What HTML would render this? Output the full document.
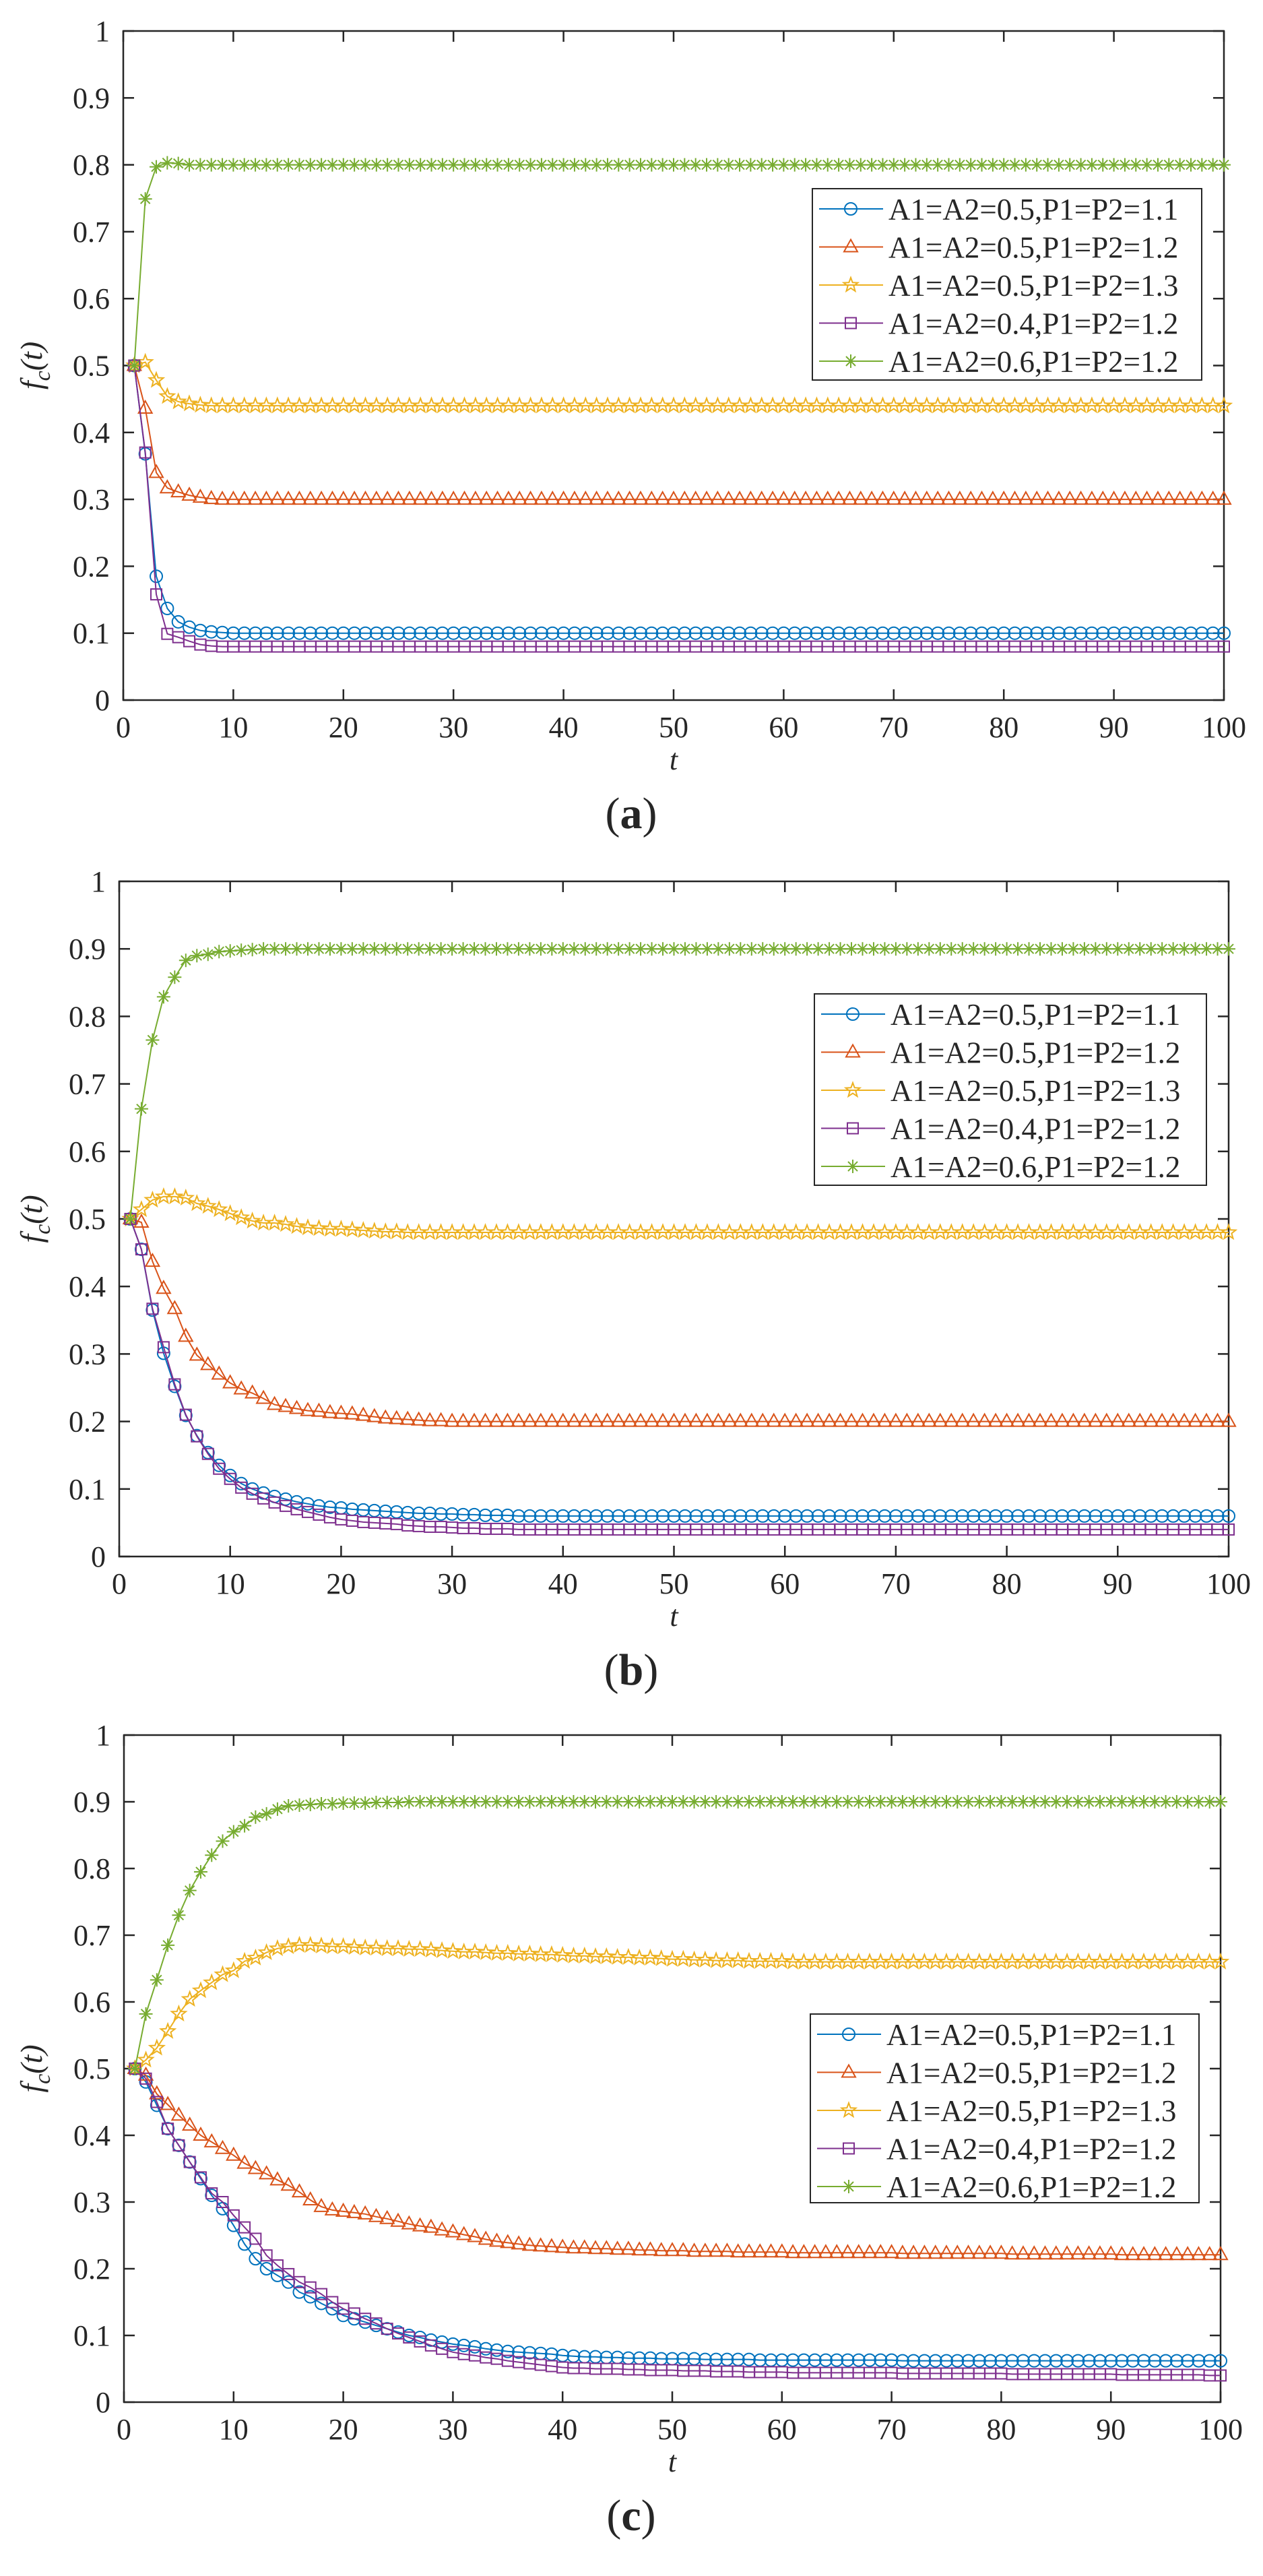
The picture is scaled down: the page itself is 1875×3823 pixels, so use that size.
<!DOCTYPE html>
<html><head><meta charset="utf-8"><style>
html,body{margin:0;padding:0;background:#fff;}
svg{display:block;font-family:"Liberation Serif","Times New Roman",serif;}
text{font-family:"Liberation Serif","Times New Roman",serif;fill:#262626;}
</style></head>
<body>
<svg id="fig" width="1875" height="3823" viewBox="0 0 1875 3823" font-family="Liberation Serif, serif" xmlns="http://www.w3.org/2000/svg"></svg>
<script>
const tValues = Array.from({length:100},(_,i)=>i+1);
const xTickLabels = ["0","10","20","30","40","50","60","70","80","90","100"];
const yTickLabels = ["0","0.1","0.2","0.3","0.4","0.5","0.6","0.7","0.8","0.9","1"];
const seriesNames = ["A1=A2=0.5,P1=P2=1.1","A1=A2=0.5,P1=P2=1.2","A1=A2=0.5,P1=P2=1.3","A1=A2=0.4,P1=P2=1.2","A1=A2=0.6,P1=P2=1.2"];

const aBlue = [.5,.368,.185,.137,.117,.109,.104,.102,.101,.1,
.1,.1,.1,.1,.1,.1,.1,.1,.1,.1, .1,.1,.1,.1,.1,.1,.1,.1,.1,.1,
.1,.1,.1,.1,.1,.1,.1,.1,.1,.1, .1,.1,.1,.1,.1,.1,.1,.1,.1,.1,
.1,.1,.1,.1,.1,.1,.1,.1,.1,.1, .1,.1,.1,.1,.1,.1,.1,.1,.1,.1,
.1,.1,.1,.1,.1,.1,.1,.1,.1,.1, .1,.1,.1,.1,.1,.1,.1,.1,.1,.1,
.1,.1,.1,.1,.1,.1,.1,.1,.1,.1];
const aRed = [.5,.436,.34,.317,.311,.306,.303,.301,.3,.3,
.3,.3,.3,.3,.3,.3,.3,.3,.3,.3, .3,.3,.3,.3,.3,.3,.3,.3,.3,.3,
.3,.3,.3,.3,.3,.3,.3,.3,.3,.3, .3,.3,.3,.3,.3,.3,.3,.3,.3,.3,
.3,.3,.3,.3,.3,.3,.3,.3,.3,.3, .3,.3,.3,.3,.3,.3,.3,.3,.3,.3,
.3,.3,.3,.3,.3,.3,.3,.3,.3,.3, .3,.3,.3,.3,.3,.3,.3,.3,.3,.3,
.3,.3,.3,.3,.3,.3,.3,.3,.3,.3];
const aYellow = [.5,.505,.478,.454,.446,.443,.441,.44,.44,.44,
.44,.44,.44,.44,.44,.44,.44,.44,.44,.44, .44,.44,.44,.44,.44,.44,.44,.44,.44,.44,
.44,.44,.44,.44,.44,.44,.44,.44,.44,.44, .44,.44,.44,.44,.44,.44,.44,.44,.44,.44,
.44,.44,.44,.44,.44,.44,.44,.44,.44,.44, .44,.44,.44,.44,.44,.44,.44,.44,.44,.44,
.44,.44,.44,.44,.44,.44,.44,.44,.44,.44, .44,.44,.44,.44,.44,.44,.44,.44,.44,.44,
.44,.44,.44,.44,.44,.44,.44,.44,.44,.44];
const aPurple = [.5,.37,.158,.099,.094,.088,.083,.081,.08,.08,
.08,.08,.08,.08,.08,.08,.08,.08,.08,.08, .08,.08,.08,.08,.08,.08,.08,.08,.08,.08,
.08,.08,.08,.08,.08,.08,.08,.08,.08,.08, .08,.08,.08,.08,.08,.08,.08,.08,.08,.08,
.08,.08,.08,.08,.08,.08,.08,.08,.08,.08, .08,.08,.08,.08,.08,.08,.08,.08,.08,.08,
.08,.08,.08,.08,.08,.08,.08,.08,.08,.08, .08,.08,.08,.08,.08,.08,.08,.08,.08,.08,
.08,.08,.08,.08,.08,.08,.08,.08,.08,.08];
const aGreen = [.5,.749,.797,.803,.802,.8,.8,.8,.8,.8,
.8,.8,.8,.8,.8,.8,.8,.8,.8,.8, .8,.8,.8,.8,.8,.8,.8,.8,.8,.8,
.8,.8,.8,.8,.8,.8,.8,.8,.8,.8, .8,.8,.8,.8,.8,.8,.8,.8,.8,.8,
.8,.8,.8,.8,.8,.8,.8,.8,.8,.8, .8,.8,.8,.8,.8,.8,.8,.8,.8,.8,
.8,.8,.8,.8,.8,.8,.8,.8,.8,.8, .8,.8,.8,.8,.8,.8,.8,.8,.8,.8,
.8,.8,.8,.8,.8,.8,.8,.8,.8,.8];

const bBlue = [.5,.455,.365,.301,.252,.209,.179,.154,.135,.12,
.108,.1,.094,.089,.085,.081,.078,.075,.073,.072, .07,.069,.068,.067,.066,.065,.064,.064,.063,.063,
.062,.062,.061,.061,.061,.06,.06,.06,.06,.06, .06,.06,.06,.06,.06,.06,.06,.06,.06,.06,
.06,.06,.06,.06,.06,.06,.06,.06,.06,.06, .06,.06,.06,.06,.06,.06,.06,.06,.06,.06,
.06,.06,.06,.06,.06,.06,.06,.06,.06,.06, .06,.06,.06,.06,.06,.06,.06,.06,.06,.06,
.06,.06,.06,.06,.06,.06,.06,.06,.06,.06];
const bRed = [.5,.495,.437,.397,.367,.326,.298,.284,.27,.257,
.248,.242,.234,.225,.222,.219,.216,.215,.213,.212, .211,.209,.207,.205,.204,.203,.202,.201,.201,.2,
.2,.2,.2,.2,.2,.2,.2,.2,.2,.2, .2,.2,.2,.2,.2,.2,.2,.2,.2,.2,
.2,.2,.2,.2,.2,.2,.2,.2,.2,.2, .2,.2,.2,.2,.2,.2,.2,.2,.2,.2,
.2,.2,.2,.2,.2,.2,.2,.2,.2,.2, .2,.2,.2,.2,.2,.2,.2,.2,.2,.2,
.2,.2,.2,.2,.2,.2,.2,.2,.2,.2];
const bYellow = [.5,.514,.528,.533,.533,.531,.523,.519,.514,.508,
.502,.497,.494,.494,.492,.489,.487,.486,.485,.485, .484,.483,.482,.481,.481,.48,.48,.48,.48,.48,
.48,.48,.48,.48,.48,.48,.48,.48,.48,.48, .48,.48,.48,.48,.48,.48,.48,.48,.48,.48,
.48,.48,.48,.48,.48,.48,.48,.48,.48,.48, .48,.48,.48,.48,.48,.48,.48,.48,.48,.48,
.48,.48,.48,.48,.48,.48,.48,.48,.48,.48, .48,.48,.48,.48,.48,.48,.48,.48,.48,.48,
.48,.48,.48,.48,.48,.48,.48,.48,.48,.48];
const bPurple = [.5,.455,.367,.31,.255,.21,.178,.152,.13,.115,
.102,.093,.086,.08,.075,.07,.066,.062,.058,.055, .053,.051,.05,.049,.048,.046,.045,.044,.044,.043,
.042,.042,.041,.041,.041,.04,.04,.04,.04,.04, .04,.04,.04,.04,.04,.04,.04,.04,.04,.04,
.04,.04,.04,.04,.04,.04,.04,.04,.04,.04, .04,.04,.04,.04,.04,.04,.04,.04,.04,.04,
.04,.04,.04,.04,.04,.04,.04,.04,.04,.04, .04,.04,.04,.04,.04,.04,.04,.04,.04,.04,
.04,.04,.04,.04,.04,.04,.04,.04,.04,.04];
const bGreen = [.5,.663,.765,.829,.858,.883,.89,.892,.896,.897,
.898,.899,.9,.9,.9,.9,.9,.9,.9,.9, .9,.9,.9,.9,.9,.9,.9,.9,.9,.9,
.9,.9,.9,.9,.9,.9,.9,.9,.9,.9, .9,.9,.9,.9,.9,.9,.9,.9,.9,.9,
.9,.9,.9,.9,.9,.9,.9,.9,.9,.9, .9,.9,.9,.9,.9,.9,.9,.9,.9,.9,
.9,.9,.9,.9,.9,.9,.9,.9,.9,.9, .9,.9,.9,.9,.9,.9,.9,.9,.9,.9,
.9,.9,.9,.9,.9,.9,.9,.9,.9,.9];

const cBlue = [.5,.48,.445,.41,.385,.36,.335,.31,.29,.265,
.237,.215,.2,.19,.18,.165,.158,.148,.14,.13,
.125,.12,.115,.11,.105,.1,.097,.093,.09,.087,
.085,.083,.08,.078,.076,.075,.074,.073,.072,.07,
.069,.068,.068,.067,.067,.066,.066,.066,.065,.065,
.065,.065,.064,.064,.064,.064,.064,.063,.063,.063,
.063,.063,.063,.063,.063,.063,.063,.063,.063,.063,
.062,.062,.062,.062,.062,.062,.062,.062,.062,.062,
.062,.062,.062,.062,.062,.062,.062,.062,.062,.062,
.062,.062,.062,.062,.062,.062,.062,.062,.062,.062];
const cRed = [.5,.49,.462,.446,.43,.415,.4,.39,.38,.37,
.358,.35,.342,.333,.325,.315,.303,.293,.288,.286,
.284,.282,.278,.275,.271,.267,.264,.262,.258,.255,
.251,.248,.244,.241,.239,.237,.235,.234,.233,.232,
.231,.231,.23,.23,.229,.229,.228,.228,.227,.227,
.227,.226,.226,.226,.226,.225,.225,.225,.225,.225,
.224,.224,.224,.224,.224,.224,.224,.224,.224,.224,
.223,.223,.223,.223,.223,.223,.223,.223,.223,.223,
.222,.222,.222,.222,.222,.222,.222,.222,.222,.222,
.221,.221,.221,.221,.221,.221,.221,.221,.221,.221];
const cYellow = [.5,.513,.531,.556,.582,.604,.617,.629,.641,.647,
.661,.666,.674,.68,.683,.685,.685,.684,.683,.683,
.682,.681,.681,.68,.68,.679,.679,.678,.677,.676,
.675,.675,.674,.673,.673,.672,.672,.671,.671,.67,
.669,.669,.668,.668,.667,.667,.666,.666,.665,.664,
.664,.663,.663,.662,.662,.662,.661,.661,.661,.661,
.66,.66,.66,.66,.66,.66,.66,.66,.66,.66,
.66,.66,.66,.66,.66,.66,.66,.66,.66,.66,
.66,.66,.66,.66,.66,.66,.66,.66,.66,.66,
.66,.66,.66,.66,.66,.66,.66,.66,.66,.66];
const cPurple = [.5,.485,.45,.41,.385,.36,.337,.313,.3,.28,
.262,.245,.22,.205,.192,.18,.172,.162,.15,.14,
.133,.125,.118,.11,.103,.097,.091,.085,.08,.075,
.072,.07,.067,.065,.062,.06,.058,.056,.054,.052,
.051,.051,.05,.05,.05,.049,.049,.048,.048,.048,
.047,.047,.047,.046,.046,.046,.045,.045,.045,.045,
.044,.044,.044,.044,.044,.044,.044,.044,.044,.044,
.043,.043,.043,.043,.043,.043,.043,.043,.043,.043,
.042,.042,.042,.042,.042,.042,.042,.042,.042,.042,
.041,.041,.041,.041,.041,.041,.041,.041,.04,.04];
const cGreen = [.5,.582,.633,.685,.73,.767,.795,.82,.841,.855,
.864,.877,.882,.889,.894,.895,.896,.897,.897,.898,
.898,.898,.899,.899,.899,.9,.9,.9,.9,.9,
.9,.9,.9,.9,.9,.9,.9,.9,.9,.9, .9,.9,.9,.9,.9,.9,.9,.9,.9,.9,
.9,.9,.9,.9,.9,.9,.9,.9,.9,.9, .9,.9,.9,.9,.9,.9,.9,.9,.9,.9,
.9,.9,.9,.9,.9,.9,.9,.9,.9,.9, .9,.9,.9,.9,.9,.9,.9,.9,.9,.9,
.9,.9,.9,.9,.9,.9,.9,.9,.9,.9];

const NS = "http://www.w3.org/2000/svg";
const svg = document.getElementById('fig');
const colors = ["#0072BD","#D95319","#EDB120","#7E2F8E","#77AC30"];
const markerKinds = ["circle","triangle","star","square","asterisk"];
const seriesKeys = ["blue","red","yellow","purple","green"];
const AX = "#262626";
const FONT = "Liberation Serif, Times New Roman, serif";

function mk(tag, attrs, parent){
  const e = document.createElementNS(NS, tag);
  for (const k in attrs) e.setAttribute(k, attrs[k]);
  if (tag === "text") e.setAttribute("font-family", FONT);
  parent.appendChild(e);
  return e;
}
function starPath(cx, cy, R){
  const r = R*0.42; let d = "";
  for (let i=0;i<10;i++){
    const a = -Math.PI/2 + i*Math.PI/5;
    const rr = i%2===0 ? R : r;
    d += (i===0?"M":"L") + (cx+rr*Math.cos(a)).toFixed(1) + " " + (cy+rr*Math.sin(a)).toFixed(1);
  }
  return d + "Z";
}
function drawMarker(g, kind, x, y, color){
  const st = {fill:"none", stroke:color, "stroke-width":2};
  let m;
  if (kind==="circle") m = mk("circle", Object.assign({cx:x, cy:y, r:9}, st), g);
  else if (kind==="triangle") m = mk("path", Object.assign({d:`M${x} ${y-11}L${x+10} ${y+7}L${x-10} ${y+7}Z`}, st), g);
  else if (kind==="star") m = mk("path", Object.assign({d:starPath(x, y, 11)}, st), g);
  else if (kind==="square") m = mk("rect", Object.assign({x:x-8, y:y-8, width:16, height:16}, st), g);
  else {
    const s = 10, s2 = 7;
    m = mk("path", Object.assign({d:`M${x} ${y-s}L${x} ${y+s}M${x-s} ${y}L${x+s} ${y}M${x-s2} ${y-s2}L${x+s2} ${y+s2}M${x-s2} ${y+s2}L${x+s2} ${y-s2}`}, st), g);
  }
  return m;
}

function drawPanel(id, L, R, T, B, series, leg, caption){
  const g = mk("g", {}, svg);
  
  
  const xs = t => L + t/100*(R-L);
  const ys = v => B - v*(B-T);
  const box = mk("rect", {x:L, y:T, width:R-L, height:B-T, fill:"none", stroke:AX, "stroke-width":2.5}, g);
  
  
  xTickLabels.forEach((lab, i) => {
    const x = xs(i*10);
    mk("line", {x1:x, y1:B, x2:x, y2:B-16, stroke:AX, "stroke-width":2.5}, g);
    mk("line", {x1:x, y1:T, x2:x, y2:T+16, stroke:AX, "stroke-width":2.5}, g);
    const tx = mk("text", {x:x, y:B+55, "text-anchor":"middle", "font-size":44}, g);
    tx.textContent = lab;
    
    
  });
  yTickLabels.forEach((lab, i) => {
    const y = ys(i/10);
    mk("line", {x1:L, y1:y, x2:L+16, y2:y, stroke:AX, "stroke-width":2.5}, g);
    mk("line", {x1:R, y1:y, x2:R-16, y2:y, stroke:AX, "stroke-width":2.5}, g);
    const ty = mk("text", {x:L-20, y:y+15, "text-anchor":"end", "font-size":44}, g);
    ty.textContent = lab;
    
    
  });
  const xt = mk("text", {x:(L+R)/2, y:B+103, "text-anchor":"middle", "font-size":44, "font-style":"italic"}, g);
  xt.textContent = "t";
  
  
  const ymid = (T+B)/2;
  const yt = mk("text", {x:0, y:0, "text-anchor":"middle", "font-size":46, "font-style":"italic", transform:`translate(62 ${ymid}) rotate(-90)`}, g);
  yt.innerHTML = 'f<tspan dy="12" font-size="34">c</tspan><tspan dy="-12">(t)</tspan>';
  
  
  const cap = mk("text", {x:937, y:B+190, "text-anchor":"middle", "font-size":66}, g);
  cap.innerHTML = '(<tspan font-weight="bold">' + caption + '</tspan>)';
  
  
  series.forEach((vals, si) => {
    const sg = mk("g", {}, g);
    
    
    const pts = tValues.map((t, i) => xs(t).toFixed(1) + "," + ys(vals[i]).toFixed(1)).join(" ");
    const pl = mk("polyline", {points:pts, fill:"none", stroke:colors[si], "stroke-width":2}, sg);
    
    
    tValues.forEach((t, i) => {
      const m = drawMarker(sg, markerKinds[si], xs(t), ys(vals[i]), colors[si]);
      
      
    });
  });
  const lg = mk("g", {}, g);
  
  
  mk("rect", {x:leg[0], y:leg[1], width:leg[2]-leg[0], height:leg[3]-leg[1], fill:"#fff", stroke:AX, "stroke-width":2}, lg);
  seriesNames.forEach((nm, si) => {
    const ey = leg[1] + 30 + si*56.5;
    const eg = mk("g", {}, lg);
    
    
    mk("line", {x1:leg[0]+10, y1:ey, x2:leg[0]+105, y2:ey, stroke:colors[si], "stroke-width":2}, eg);
    drawMarker(eg, markerKinds[si], leg[0]+57, ey, colors[si]);
    const tx = mk("text", {x:leg[0]+113, y:ey+16, "font-size":45, fill:"#000"}, eg);
    tx.textContent = nm;
  });
}

drawPanel("a", 183, 1817, 46, 1039, [aBlue, aRed, aYellow, aPurple, aGreen], [1206, 280, 1784, 564], "a");
drawPanel("b", 177, 1824, 1308, 2310, [bBlue, bRed, bYellow, bPurple, bGreen], [1209, 1475, 1791, 1759], "b");
drawPanel("c", 184, 1812, 2575, 3565, [cBlue, cRed, cYellow, cPurple, cGreen], [1203, 2989, 1780, 3269], "c");
</script>
</body></html>
